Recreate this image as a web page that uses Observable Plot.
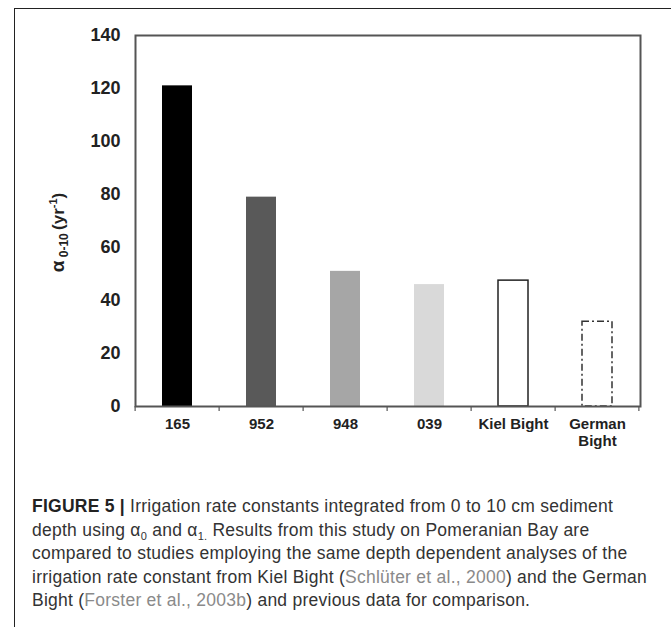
<!DOCTYPE html>
<html><head><meta charset="utf-8">
<script src="https://cdn.jsdelivr.net/npm/d3@7"></script>
<script src="https://cdn.jsdelivr.net/npm/@observablehq/plot@0.6"></script>
<style>
body{margin:0;background:#fff;}
#fig{position:absolute;left:14px;top:8px;width:700px;height:700px;border-left:1.5px solid #222;border-top:1.5px solid #222;}
#chart{position:absolute;left:0;top:0;}
#caption{position:absolute;left:32px;top:495px;font-family:"Liberation Sans",Arial,sans-serif;font-size:17.5px;letter-spacing:0.25px;line-height:23.5px;color:#333;white-space:nowrap;}
#caption b{color:#222;}
#caption .ref{color:#8a8a8a;}
#caption sub{font-size:11px;line-height:0;vertical-align:-4px;}
</style></head><body>
<div id="fig"></div>
<div id="chart"></div>
<div id="caption"><b>FIGURE 5 |</b> Irrigation rate constants integrated from 0 to 10 cm sediment<br>depth using α<sub>0</sub> and α<sub>1.</sub> Results from this study on Pomeranian Bay are<br>compared to studies employing the same depth dependent analyses of the<br>irrigation rate constant from Kiel Bight (<span class="ref">Schlüter et al., 2000</span>) and the German<br>Bight (<span class="ref">Forster et al., 2003b</span>) and previous data for comparison.</div>
<script>
const categories = ["165", "952", "948", "039", "Kiel Bight", "German Bight"];
const values = [121, 79, 51, 46, 47.5, 32];
const fills = ["#000000", "#595959", "#a6a6a6", "#d9d9d9", "#ffffff", "#ffffff"];
const yTicks = [0, 20, 40, 60, 80, 100, 120, 140];

const data = categories.map((c, i) => ({category: c, value: values[i], fill: fills[i]}));
const filled = data.slice(0, 4);
const outlined = data.slice(4, 5);
const dashed = data.slice(5, 6);

const chart = Plot.plot({
  width: 671,
  height: 470,
  marginLeft: 135,
  marginRight: 31,
  marginTop: 35,
  marginBottom: 64,
  style: {fontFamily: "'Liberation Sans', Arial, sans-serif", color: "#222", background: "transparent"},
  x: {domain: categories, paddingInner: 0.64, paddingOuter: 0.32},
  y: {domain: [0, 140]},
  marks: [
    Plot.barY(filled, {x: "category", y: "value", fill: "fill"}),
    Plot.barY(outlined, {x: "category", y: "value", fill: "white", stroke: "#222", strokeWidth: 1.5}),
    Plot.barY(dashed, {x: "category", y: "value", fill: "white", stroke: "#333", strokeWidth: 1.5, strokeDasharray: "7,3,2,3"}),
    Plot.frame({stroke: "#555", strokeWidth: 2}),
    Plot.axisY({ticks: yTicks, tickSize: 0, tickPadding: 15, fontSize: 18, fontWeight: "bold", label: null}),
    Plot.axisX({tickSize: 0, tickPadding: 11, fontSize: 15, fontWeight: "bold", label: null, lineHeight: 1.1,
      tickFormat: d => d === "German Bight" ? "German\nBight" : d})
  ]
});
document.getElementById("chart").appendChild(chart);

// tick marks at the band boundaries, from the x scale
const xs = chart.scale("x");
const ys = chart.scale("y");
const svg = d3.select(chart);
const step = xs.step;
const y0 = ys.apply(0);
const bounds = categories.map(c => xs.apply(c) - xs.paddingInner * step / 2);
bounds.push(xs.apply(categories[categories.length - 1]) + xs.bandwidth + xs.paddingInner * step / 2);
svg.append("g").attr("stroke", "#555").attr("stroke-width", 1.2)
  .selectAll("line").data(bounds).join("line")
  .attr("x1", d => d).attr("x2", d => d).attr("y1", y0).attr("y2", y0 + 5);

// y axis title with sub/superscripts
const t = svg.append("text")
  .attr("transform", `translate(64,${(ys.apply(0) + ys.apply(140)) / 2 + 12}) rotate(-90)`)
  .attr("text-anchor", "middle").attr("font-weight", "bold").attr("font-size", 17).attr("fill", "#222");
t.append("tspan").attr("font-size", 19).text("α");
t.append("tspan").attr("font-size", 12).attr("dy", 4).text(" 0-10 ");
t.append("tspan").attr("dy", -4).text("(yr");
t.append("tspan").attr("font-size", 11).attr("dy", -7).text("-1");
t.append("tspan").attr("dy", 7).text(")");
</script>
</body></html>
